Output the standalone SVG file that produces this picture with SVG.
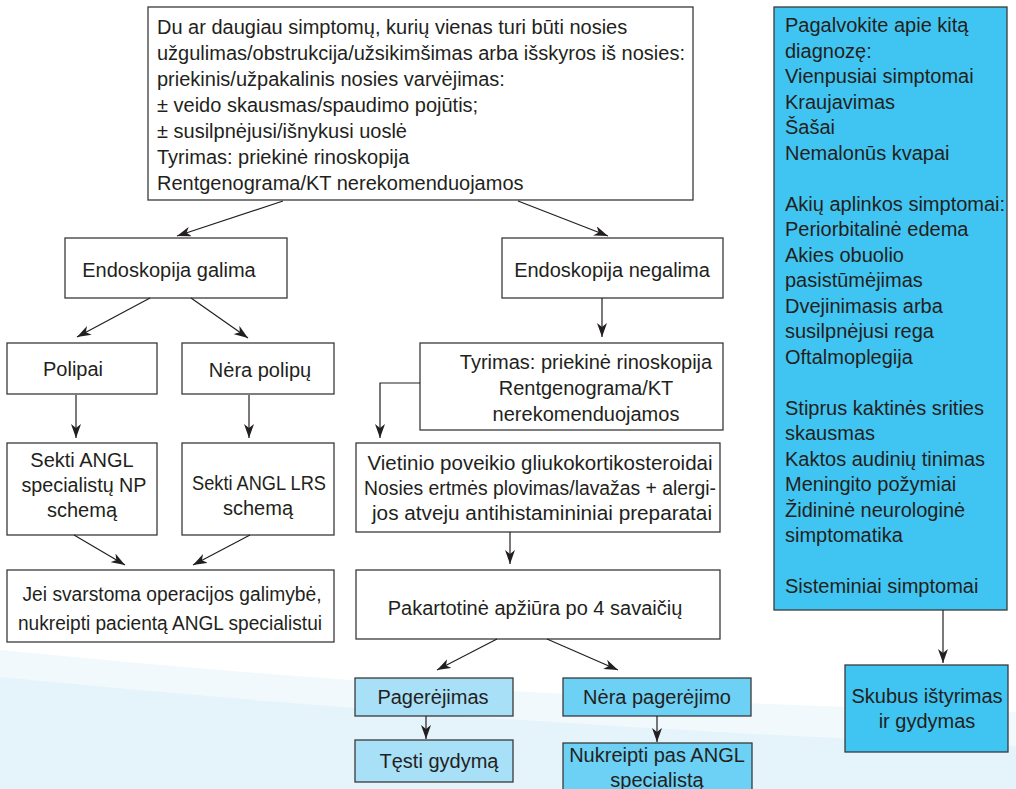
<svg xmlns="http://www.w3.org/2000/svg" width="1016" height="789" viewBox="0 0 1016 789">
<defs>
<marker id="arr" viewBox="0 0 14 10" refX="14" refY="5" markerWidth="14" markerHeight="10" markerUnits="userSpaceOnUse" orient="auto">
<path d="M0,0 L14,5 L0,10 L4,5 z" fill="#231f20"/>
</marker>
<style>
.box{fill:#fff;stroke:#3a3a3a;stroke-width:1.3}
.lb{fill:#a8e0f8;stroke:#3a3a3a;stroke-width:1.3}
.mb{fill:#6dd0f5;stroke:#3a3a3a;stroke-width:1.3}
.cb{fill:#40c5f2;stroke:#3a3a3a;stroke-width:1.3}
text{font-family:"Liberation Sans",Arial,sans-serif;font-size:20px;fill:#231f20}
.c{text-anchor:middle}
.con line,.con polyline{stroke:#231f20;stroke-width:1.2;fill:none;marker-end:url(#arr)}
</style>
</defs>
<rect width="1016" height="789" fill="#fff"/>
<path d="M0,650 Q500,700 1016,712 L1016,789 L0,789 Z" fill="#f2f9fd"/>
<path d="M0,677 Q500,726 1016,746 L1016,789 L0,789 Z" fill="#e5f4fb"/>

<g id="n-top">
<rect class="box" x="148" y="7" width="545" height="193"/>
<text x="157" y="34">Du ar daugiau simptomų, kurių vienas turi būti nosies</text>
<text x="157" y="60">užgulimas/obstrukcija/užsikimšimas arba išskyros iš nosies:</text>
<text x="157" y="86">priekinis/užpakalinis nosies varvėjimas:</text>
<text x="157" y="112">± veido skausmas/spaudimo pojūtis;</text>
<text x="157" y="138">± susilpnėjusi/išnykusi uoslė</text>
<text x="157" y="164">Tyrimas: priekinė rinoskopija</text>
<text x="157" y="190">Rentgenograma/KT nerekomenduojamos</text>
</g>
<g id="n-galima">
<rect class="box" x="65" y="238" width="222" height="60"/>
<text class="c" x="169" y="277">Endoskopija galima</text>
</g>
<g id="n-negalima">
<rect class="box" x="502" y="238" width="221" height="60"/>
<text class="c" x="612" y="277">Endoskopija negalima</text>
</g>
<g id="n-polipai">
<rect class="box" x="7" y="343" width="150" height="51"/>
<text class="c" x="73" y="376">Polipai</text>
</g>
<g id="n-nera-polipu">
<rect class="box" x="182" y="343" width="152" height="51"/>
<text class="c" x="260" y="377">Nėra polipų</text>
</g>
<g id="n-sekti-np">
<rect class="box" x="7" y="443" width="150" height="92"/>
<text class="c" x="82" y="467">Sekti ANGL</text>
<text class="c" x="84" y="492" textLength="125" lengthAdjust="spacingAndGlyphs">specialistų NP</text>
<text class="c" x="82" y="517">schemą</text>
</g>
<g id="n-sekti-lrs">
<rect class="box" x="182" y="443" width="152" height="92"/>
<text class="c" x="259" y="490" textLength="134" lengthAdjust="spacingAndGlyphs">Sekti ANGL LRS</text>
<text class="c" x="258" y="515">schemą</text>
</g>
<g id="n-jei">
<rect class="box" x="7" y="570" width="327" height="72"/>
<text class="c" x="172" y="601" textLength="299" lengthAdjust="spacingAndGlyphs">Jei svarstoma operacijos galimybė,</text>
<text class="c" x="170" y="630" textLength="304" lengthAdjust="spacingAndGlyphs">nukreipti pacientą ANGL specialistui</text>
</g>
<g id="n-tyrimas">
<rect class="box" x="420" y="343" width="303" height="87"/>
<text class="c" x="586" y="369">Tyrimas: priekinė rinoskopija</text>
<text class="c" x="586" y="395">Rentgenograma/KT</text>
<text class="c" x="586" y="421">nerekomenduojamos</text>
</g>
<g id="n-vietinio">
<rect class="box" x="356" y="443" width="364" height="89"/>
<text class="c" x="540" y="470" textLength="345" lengthAdjust="spacingAndGlyphs">Vietinio poveikio gliukokortikosteroidai</text>
<text class="c" x="540" y="495" textLength="352" lengthAdjust="spacingAndGlyphs">Nosies ertmės plovimas/lavažas + alergi-</text>
<text class="c" x="542" y="520" textLength="340" lengthAdjust="spacingAndGlyphs">jos atveju antihistamininiai preparatai</text>
</g>
<g id="n-pakartotine">
<rect class="box" x="356" y="570" width="364" height="69"/>
<text class="c" x="535" y="615">Pakartotinė apžiūra po 4 savaičių</text>
</g>
<g id="n-pagerejimas">
<rect class="lb" x="355" y="678" width="158" height="38"/>
<text class="c" x="433" y="704">Pagerėjimas</text>
</g>
<g id="n-testi">
<rect class="lb" x="355" y="740" width="158" height="42"/>
<text class="c" x="439" y="768">Tęsti gydymą</text>
</g>
<g id="n-nera-pagerejimo">
<rect class="mb" x="563" y="678" width="188" height="38"/>
<text class="c" x="657" y="704">Nėra pagerėjimo</text>
</g>
<g id="n-nukreipti">
<rect class="mb" x="563" y="743" width="189" height="60"/>
<text class="c" x="657" y="762">Nukreipti pas ANGL</text>
<text class="c" x="657" y="787">specialistą</text>
</g>
<g id="n-kita">
<rect class="cb" x="774" y="7" width="233" height="603"/>
<text x="785" y="32">Pagalvokite apie kitą</text>
<text x="785" y="57.5">diagnozę:</text>
<text x="785" y="83">Vienpusiai simptomai</text>
<text x="785" y="108.5">Kraujavimas</text>
<text x="785" y="134">Šašai</text>
<text x="785" y="159.5">Nemalonūs kvapai</text>
<text x="785" y="210.5">Akių aplinkos simptomai:</text>
<text x="785" y="236">Periorbitalinė edema</text>
<text x="785" y="261.5">Akies obuolio</text>
<text x="785" y="287">pasistūmėjimas</text>
<text x="785" y="312.5">Dvejinimasis arba</text>
<text x="785" y="338">susilpnėjusi rega</text>
<text x="785" y="363.5">Oftalmoplegija</text>
<text x="785" y="414.5">Stiprus kaktinės srities</text>
<text x="785" y="440">skausmas</text>
<text x="785" y="465.5">Kaktos audinių tinimas</text>
<text x="785" y="491">Meningito požymiai</text>
<text x="785" y="516.5">Židininė neurologinė</text>
<text x="785" y="542">simptomatika</text>
<text x="785" y="593">Sisteminiai simptomai</text>
</g>
<g id="n-skubus">
<rect class="cb" x="845" y="665" width="163" height="87"/>
<text class="c" x="927" y="703">Skubus ištyrimas</text>
<text class="c" x="927" y="728">ir gydymas</text>
</g>

<g id="connectors" class="con">
<line x1="283" y1="201" x2="177" y2="236"/>
<line x1="518" y1="201" x2="608" y2="236"/>
<line x1="150" y1="298" x2="77" y2="337"/>
<line x1="191" y1="298" x2="248" y2="338"/>
<line x1="76" y1="395" x2="76" y2="438"/>
<line x1="249" y1="395" x2="249" y2="438"/>
<line x1="74" y1="535" x2="125" y2="565"/>
<line x1="250" y1="535" x2="193" y2="565"/>
<line x1="602" y1="298" x2="602" y2="337"/>
<polyline points="420,383 380,383 380,438"/>
<line x1="510" y1="532" x2="510" y2="564"/>
<line x1="497" y1="639" x2="437" y2="670"/>
<line x1="547" y1="639" x2="618" y2="670"/>
<line x1="426" y1="716" x2="426" y2="739"/>
<line x1="657" y1="716" x2="657" y2="742"/>
<line x1="943" y1="610" x2="943" y2="663"/>
</g>
</svg>
